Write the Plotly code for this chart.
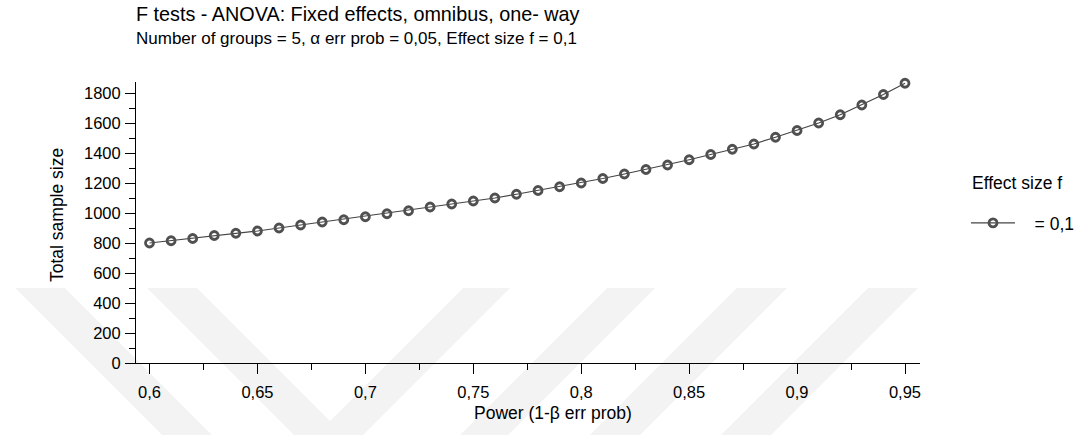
import plotly.graph_objects as go

# ---- data ----
power = [0.60, 0.61, 0.62, 0.63, 0.64, 0.65, 0.66, 0.67, 0.68, 0.69,
         0.70, 0.71, 0.72, 0.73, 0.74, 0.75, 0.76, 0.77, 0.78, 0.79,
         0.80, 0.81, 0.82, 0.83, 0.84, 0.85, 0.86, 0.87, 0.88, 0.89,
         0.90, 0.91, 0.92, 0.93, 0.94, 0.95]
total_sample_size = [800, 815, 830, 850, 865, 880, 900, 920, 940, 955,
                     975, 995, 1015, 1040, 1060, 1080, 1100, 1125, 1150, 1175,
                     1200, 1230, 1260, 1290, 1320, 1355, 1390, 1425, 1460, 1505,
                     1550, 1600, 1655, 1720, 1790, 1865]
series_name = "\u00a0\u00a0\u00a0= 0,1"
legend_title = "Effect size f"
title_text = "F tests - ANOVA: Fixed effects, omnibus, one- way"
subtitle_text = "Number of groups = 5, \u03b1 err prob = 0,05, Effect size f = 0,1"
x_title = "Power (1-\u03b2 err prob)"
y_title = "Total sample size"

# ---- geometry (pixels) ----
W, H = 1080, 435
L, R, T, B = 136, 920, 82, 363
Y_TOP = (B - T) / 0.15          # 0.15 px per sample-size unit
FONT = "Arial, Liberation Sans, Helvetica, sans-serif"


def px(X):
    return (X - L) / (R - L)


def py(Y):
    return (B - Y) / (B - T)


def poly(points):
    return "M " + " L ".join(f"{px(x):.5f},{py(y):.5f}" for x, y in points) + " Z"


watermark = [
    [(15, 288), (65, 288), (212, 435), (162, 435)],
    [(147, 288), (197, 288), (330, 421), (463, 288), (510, 288), (363, 435), (294, 435)],
    [(607, 288), (655, 288), (508, 435), (460, 435)],
    [(737, 288), (787, 288), (640, 435), (590, 435)],
    [(868, 288), (918, 288), (771, 435), (721, 435)],
]
shapes = [dict(type="path", path=poly(p), xref="paper", yref="paper",
               fillcolor="#f3f3f3", line=dict(width=0), layer="below")
          for p in watermark]

fig = go.Figure()
fig.add_trace(go.Scatter(
    x=power, y=total_sample_size, name=series_name, mode="lines+markers",
    line=dict(color="#444444", width=1.2),
    marker=dict(symbol="circle-open", size=8, color="#505050",
                line=dict(width=2.8, color="#505050")),
    cliponaxis=False, showlegend=True,
))

axis_common = dict(showline=True, linecolor="black", linewidth=1, showgrid=False,
                   zeroline=False, ticks="outside", ticklen=10, tickwidth=1,
                   tickcolor="black", automargin=False,
                   tickfont=dict(family=FONT, size=16.5, color="black"))

fig.update_xaxes(range=[0.59374, 0.95695], tick0=0.6, dtick=0.05,
                 ticklabelstandoff=4,
                 minor=dict(ticks="outside", ticklen=6, dtick=0.025, tick0=0.6,
                            tickcolor="black", showgrid=False),
                 **axis_common)
fig.update_yaxes(range=[0, Y_TOP], tick0=0, dtick=200,
                 ticklabelstandoff=1,
                 minor=dict(ticks="outside", ticklen=6, dtick=100, tick0=0,
                            tickcolor="black", showgrid=False),
                 **axis_common)

annotations = [
    dict(text=title_text, x=px(134), y=py(14), xref="paper", yref="paper",
         xanchor="left", yanchor="middle", showarrow=False,
         font=dict(family=FONT, size=19.8, color="black")),
    dict(text=subtitle_text, x=px(134), y=py(38), xref="paper", yref="paper",
         xanchor="left", yanchor="middle", showarrow=False,
         font=dict(family=FONT, size=17, color="black")),
    dict(text=x_title, x=px(553), y=py(413), xref="paper", yref="paper",
         xanchor="center", yanchor="middle", showarrow=False,
         font=dict(family=FONT, size=17.5, color="black")),
    dict(text=y_title, x=px(57), y=py(215), xref="paper", yref="paper",
         xanchor="center", yanchor="middle", showarrow=False, textangle=-90,
         font=dict(family=FONT, size=17.5, color="black")),
    dict(text=legend_title, x=px(970), y=py(183), xref="paper", yref="paper",
         xanchor="left", yanchor="middle", showarrow=False,
         font=dict(family=FONT, size=17.5, color="black")),
]

fig.update_layout(
    width=W, height=H, autosize=False,
    margin=dict(l=L, r=W - R, t=T, b=H - B, pad=0, autoexpand=False),
    paper_bgcolor="white", plot_bgcolor="rgba(0,0,0,0)",
    separators=",.",
    font=dict(family=FONT, size=17, color="black"),
    shapes=shapes, annotations=annotations,
    showlegend=True,
    legend=dict(x=966 / W, y=(H - 223) / H, xref="container", yref="container",
                xanchor="left", yanchor="middle",
                itemwidth=44, bgcolor="rgba(0,0,0,0)", borderwidth=0,
                font=dict(family=FONT, size=17.5, color="black")),
)

fig.write_html("out.html", config={"displayModeBar": False},
               post_script="document.body.style.margin='0px';document.body.style.overflow='hidden';")
